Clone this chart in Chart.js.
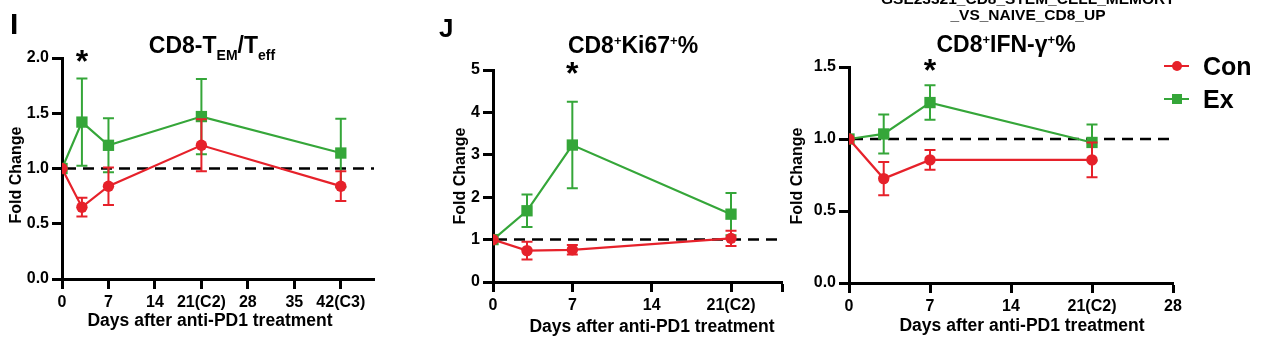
<!DOCTYPE html>
<html><head><meta charset="utf-8">
<script src="https://cdn.jsdelivr.net/npm/chart.js@4.4.1/dist/chart.umd.min.js"></script>
<style>
html,body{margin:0;padding:0;background:#fff;}
body{width:1262px;height:339px;overflow:hidden;position:relative;font-family:"Liberation Sans",Arial,sans-serif;font-weight:bold;color:#000;}
canvas{position:absolute;left:0;top:0;}
.t{position:absolute;white-space:nowrap;line-height:1;}
.sub{position:relative;top:7px;font-size:14px;}
.sup{position:relative;top:-8px;font-size:13px;}
.mk{position:absolute;}
</style></head><body>
<canvas id="cI" width="1262" height="339"></canvas>
<canvas id="cJ" width="1262" height="339"></canvas>
<canvas id="cK" width="1262" height="339"></canvas>
<script>
// ---------- DATA ----------
const seriesNames = ['Con', 'Ex'];

// Panel I: CD8-TEM/Teff
const daysI = [0, 3, 7, 21, 42];
const conI = [1.00, 0.65, 0.84, 1.21, 0.84];
const conIErr = [0, 0.085, 0.17, 0.235, 0.135];
const exI = [1.00, 1.42, 1.21, 1.47, 1.14];
const exIErr = [0, 0.395, 0.245, 0.34, 0.31];
const sigI = [3];
const xTicksI = [0, 7, 14, 21, 28, 35, 42];
const xLabelsI = ['0', '7', '14', '21(C2)', '28', '35', '42(C3)'];
const yTicksI = [0, 0.5, 1.0, 1.5, 2.0];
const yLabelsI = ['0.0', '0.5', '1.0', '1.5', '2.0'];

// Panel J: CD8+Ki67+%
const daysJ = [0, 3, 7, 21];
const conJ = [1.00, 0.74, 0.76, 1.03];
const conJErr = [0, 0.21, 0.11, 0.18];
const exJ = [1.00, 1.68, 3.23, 1.60];
const exJErr = [0, 0.385, 1.02, 0.5];
const sigJ = [7];
const xTicksJ = [0, 7, 14, 21, 25.5];
const xLabelsJ = ['0', '7', '14', '21(C2)', ''];
const yTicksJ = [0, 1, 2, 3, 4, 5];
const yLabelsJ = ['0', '1', '2', '3', '4', '5'];

// Panel K: CD8+IFN-γ+%
const daysK = [0, 3, 7, 21];
const conK = [1.00, 0.725, 0.855, 0.855];
const conKErr = [0, 0.115, 0.068, 0.12];
const exK = [1.00, 1.035, 1.253, 0.976];
const exKErr = [0, 0.135, 0.12, 0.125];
const sigK = [7];
const xTicksK = [0, 7, 14, 21, 28];
const xLabelsK = ['0', '7', '14', '21(C2)', '28'];
const yTicksK = [0, 0.5, 1.0, 1.5];
const yLabelsK = ['0.0', '0.5', '1.0', '1.5'];

const refValue = 1;

// ---------- STYLE ----------
const RED = '#E6212A', GREEN = '#35A639';
const FAMILY = '"Liberation Sans", Arial, sans-serif';
Chart.defaults.font.family = FAMILY;
Chart.defaults.font.weight = 'bold';
Chart.defaults.color = '#000';

const decor = {
  id: 'decor',
  beforeDatasetsDraw(chart) {
    const {ctx, chartArea: a, scales: {y}} = chart;
    const yy = y.getPixelForValue(chart.options.plugins.decor.ref);
    ctx.save();
    ctx.strokeStyle = '#000'; ctx.lineWidth = 2.5; ctx.setLineDash([11, 7]);
    ctx.beginPath(); ctx.moveTo(a.left + 3, yy); ctx.lineTo(a.right, yy); ctx.stroke();
    ctx.restore();
  },
  beforeDatasetDraw(chart, args) {
    const ds = chart.data.datasets[args.index];
    const {ctx, scales: {x, y}} = chart;
    ctx.save();
    ctx.strokeStyle = ds.borderColor; ctx.lineWidth = 2;
    ds.data.forEach((p, i) => {
      const e = ds.err[i];
      if (!e) return;
      const px = x.getPixelForValue(p.x);
      const yt = y.getPixelForValue(p.y + e), yb = y.getPixelForValue(p.y - e);
      ctx.beginPath();
      ctx.moveTo(px, yt); ctx.lineTo(px, yb);
      ctx.moveTo(px - 5.5, yt); ctx.lineTo(px + 5.5, yt);
      ctx.moveTo(px - 5.5, yb); ctx.lineTo(px + 5.5, yb);
      ctx.stroke();
    });
    ctx.restore();
  },
  afterDatasetsDraw(chart) {
    const {ctx, chartArea: a, scales: {x}} = chart;
    const S = 32;
    ctx.save();
    ctx.fillStyle = '#000'; ctx.font = 'bold ' + S + 'px ' + FAMILY;
    ctx.textAlign = 'center'; ctx.textBaseline = 'alphabetic';
    chart.options.plugins.decor.sig.forEach(d => {
      ctx.fillText('*', x.getPixelForValue(d), a.top - 4 + 0.575 * S);
    });
    ctx.restore();
  }
};

function makePanel(id, P) {
  const W = 50, H = 50;
  const ds = (name, color, style, radius, ys, errs) => ({
    label: name,
    data: P.days.map((d, i) => ({x: d, y: ys[i]})),
    err: errs,
    borderColor: color, backgroundColor: color,
    pointBackgroundColor: color, pointBorderColor: color,
    pointStyle: style, pointRadius: radius, pointBorderWidth: 0,
    borderWidth: 2.2, tension: 0, clip: 0
  });
  const axisStyle = {
    grid: {display: true, drawOnChartArea: false, drawTicks: true, tickLength: 10, tickWidth: 3, tickColor: '#000', color: '#000'},
    border: {display: true, color: '#000', width: 3}
  };
  return new Chart(document.getElementById(id), {
    type: 'line',
    data: {datasets: [
      ds(seriesNames[0], RED, 'circle', 5.7, P.con, P.conErr),
      ds(seriesNames[1], GREEN, 'rect', 8, P.ex, P.exErr)
    ]},
    options: {
      responsive: false, animation: false, devicePixelRatio: 1, events: [],
      layout: {padding: {left: P.left - W, right: 1262 - P.right, top: P.top, bottom: 339 - P.bottom - H}},
      plugins: {legend: {display: false}, tooltip: {enabled: false}, decor: {ref: refValue, sig: P.sig}},
      scales: {
        x: Object.assign({
          type: 'linear', min: 0, max: P.xMax,
          afterFit: s => { s.height = H; },
          afterBuildTicks: s => { s.ticks = P.xTicks.map(v => ({value: v})); },
          ticks: {callback: (v, i) => P.xLabels[i], font: {size: 16, weight: 'bold'}, color: '#000', padding: 4, maxRotation: 0, autoSkip: false}
        }, axisStyle),
        y: Object.assign({
          type: 'linear', min: 0, max: P.yMax,
          afterFit: s => { s.width = W; },
          afterBuildTicks: s => { s.ticks = P.yTicks.map(v => ({value: v})); },
          ticks: {callback: (v, i) => P.yLabels[i], font: {size: 16, weight: 'bold'}, color: '#000', padding: 3, autoSkip: false}
        }, axisStyle)
      }
    },
    plugins: [decor]
  });
}

makePanel('cI', {days: daysI, con: conI, conErr: conIErr, ex: exI, exErr: exIErr, sig: sigI,
  xTicks: xTicksI, xLabels: xLabelsI, yTicks: yTicksI, yLabels: yLabelsI,
  xMax: 47, yMax: 2, left: 62, right: 374, top: 58, bottom: 279});
makePanel('cJ', {days: daysJ, con: conJ, conErr: conJErr, ex: exJ, exErr: exJErr, sig: sigJ,
  xTicks: xTicksJ, xLabels: xLabelsJ, yTicks: yTicksJ, yLabels: yLabelsJ,
  xMax: 25.5, yMax: 5, left: 493, right: 782, top: 70, bottom: 282});
makePanel('cK', {days: daysK, con: conK, conErr: conKErr, ex: exK, exErr: exKErr, sig: sigK,
  xTicks: xTicksK, xLabels: xLabelsK, yTicks: yTicksK, yLabels: yLabelsK,
  xMax: 28, yMax: 1.5, left: 849, right: 1173, top: 67, bottom: 283});

// ---------- TEXT ----------
function txt(html, x, baseline, size, align) {
  const d = document.createElement('div');
  d.className = 't';
  d.style.fontSize = size + 'px';
  d.style.top = (baseline - 0.8465 * size) + 'px';
  if (align === 'center') { d.style.left = (x - 300) + 'px'; d.style.width = '600px'; d.style.textAlign = 'center'; }
  else d.style.left = x + 'px';
  d.innerHTML = html;
  document.body.appendChild(d);
  return d;
}
function vtxt(text, cx, cy, size) {
  const d = document.createElement('div');
  d.className = 't';
  d.style.fontSize = size + 'px';
  d.style.lineHeight = size + 'px';
  d.style.width = '200px'; d.style.textAlign = 'center';
  d.style.left = (cx - 100) + 'px'; d.style.top = (cy - size / 2) + 'px';
  d.style.transform = 'rotate(-90deg)';
  d.textContent = text;
  document.body.appendChild(d);
}

txt('_', 353, -2, 15, 'left');
txt('GSE23321_CD8_STEM_CELL_MEMORY', 1028, 4, 15.5, 'center');
txt('_VS_NAIVE_CD8_UP', 1028, 20, 15.5, 'center');

txt('I', 10, 34, 30, 'left');
txt('J', 439, 37, 26, 'left');

txt('CD8-T<span class="sub">EM</span>/T<span class="sub">eff</span>', 212, 53, 23, 'center');
txt('CD8<span class="sup">+</span>Ki67<span class="sup">+</span>%', 633, 53, 23, 'center');
txt('CD8<span class="sup">+</span>IFN-γ<span class="sup">+</span>%', 1006, 52, 23, 'center');

const xTitle = 'Days after anti-PD1 treatment';
txt(xTitle, 210, 327, 17.5, 'center');
txt(xTitle, 652, 333, 17.5, 'center');
txt(xTitle, 1022, 332, 17.5, 'center');

vtxt('Fold Change', 16, 175, 16);
vtxt('Fold Change', 460, 176, 16);
vtxt('Fold Change', 797, 176, 16);

// ---------- LEGEND ----------
function legendItem(name, color, shape, cy) {
  const line = document.createElement('div');
  line.className = 'mk';
  Object.assign(line.style, {left: '1164px', top: (cy - 1) + 'px', width: '25px', height: '2px', background: color});
  document.body.appendChild(line);
  const m = document.createElement('div');
  m.className = 'mk';
  Object.assign(m.style, {left: '1172px', top: (cy - 5) + 'px', width: '10px', height: '10px', background: color,
    borderRadius: shape === 'circle' ? '50%' : '0'});
  document.body.appendChild(m);
  txt(name, 1203, cy + 9, 25, 'left');
}
legendItem(seriesNames[0], RED, 'circle', 66);
legendItem(seriesNames[1], GREEN, 'rect', 99);
</script>
</body></html>
